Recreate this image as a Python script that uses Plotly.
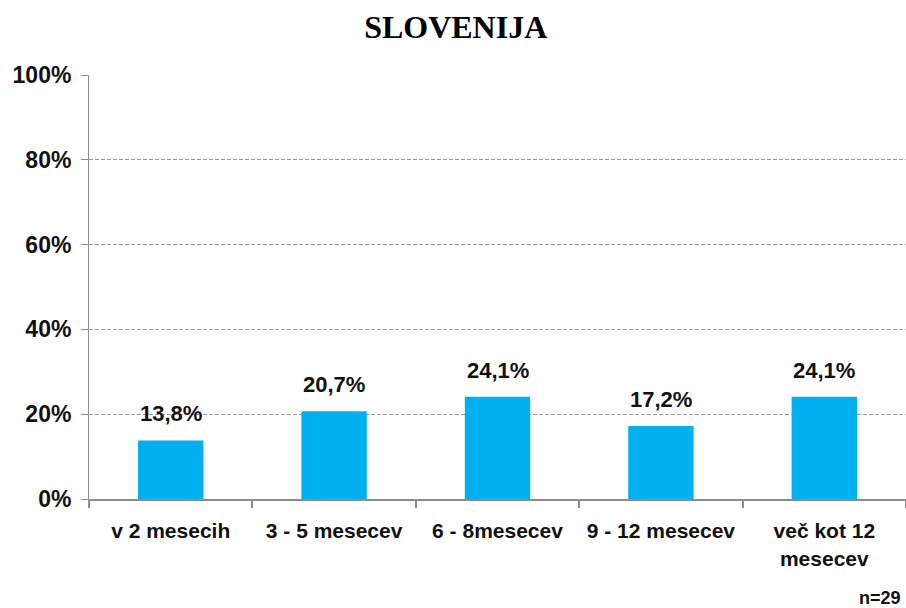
import plotly.graph_objects as go

categories = ["v 2 mesecih", "3 - 5 mesecev", "6 - 8mesecev", "9 - 12 mesecev", "več kot 12<br>mesecev"]
values = [13.8, 20.7, 24.1, 17.2, 24.1]
labels = ["13,8%", "20,7%", "24,1%", "17,2%", "24,1%"]
y_ticks = [0, 20, 40, 60, 80, 100]
y_tick_labels = ["0%", "20%", "40%", "60%", "80%", "100%"]

sans = "Liberation Sans, Arial, sans-serif"
txt = "#111111"

fig = go.Figure(go.Bar(
    x=categories, y=values,
    marker=dict(color="#00B0F0", line=dict(width=0)),
    width=0.4,
))

annotations = [
    dict(x=c, y=v, xref="x", yref="y", text=t, showarrow=False, yanchor="bottom",
         yshift=12, font=dict(family=sans, size=22, color=txt, weight="bold"))
    for c, v, t in zip(categories, values, labels)
]
annotations.append(dict(text="n=29", x=1, xref="paper", xanchor="right", xshift=-3,
                        y=-0.2337, yref="paper", yanchor="middle", showarrow=False,
                        font=dict(family=sans, size=18, color=txt, weight="bold")))

fig.update_layout(
    width=906, height=608,
    margin=dict(l=89, r=0, t=75, b=109, autoexpand=False),
    paper_bgcolor="white", plot_bgcolor="white",
    showlegend=False,
    title=dict(text="<b>SLOVENIJA</b>", x=0.503, xanchor="center", y=1 - 27 / 608, yanchor="middle",
               font=dict(family="Liberation Serif, Times New Roman, serif", size=32, color="black")),
    xaxis=dict(showline=True, linecolor="#8c8c8c", linewidth=2, ticks="outside", tickson="boundaries",
               ticklen=7, tickcolor="#8c8c8c", tickwidth=2, ticklabelstandoff=12,
               tickfont=dict(family=sans, size=21, color=txt, weight="bold")),
    yaxis=dict(range=[0, 100], tickvals=y_ticks, ticktext=y_tick_labels,
               showline=True, linecolor="#8c8c8c", linewidth=1, ticks="outside", ticklen=7,
               tickcolor="#8c8c8c", tickwidth=1, showgrid=True, gridcolor="#9a9a9a",
               griddash="4px,2px", gridwidth=1, zeroline=False, ticklabelstandoff=5,
               tickfont=dict(family=sans, size=23, color=txt, weight="bold")),
    bargap=0.6,
    annotations=annotations,
)
fig.write_html("out.html", config={"displayModeBar": False},
               post_script="document.body.style.margin='0px';document.body.style.overflow='hidden';")
